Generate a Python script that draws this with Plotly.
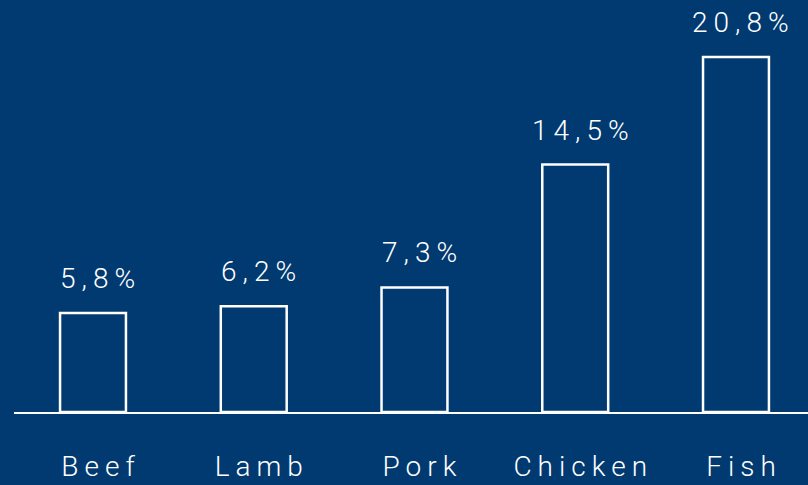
import plotly.graph_objects as go

categories = ["Beef", "Lamb", "Pork", "Chicken", "Fish"]
values = [5.8, 6.2, 7.3, 14.5, 20.8]
value_labels = ["5,8%", "6,2%", "7,3%", "14,5%", "20,8%"]

BG = "#003A70"
FONT = dict(family="Roboto, 'Open Sans', sans-serif", size=28, color="white", weight=300)

fig = go.Figure(
    go.Bar(
        x=categories,
        y=values,
        width=0.41,
        marker=dict(color=BG, line=dict(color="white", width=2.5)),
        hoverinfo="skip",
    )
)

for c, v, t in zip(categories, values, value_labels):
    fig.add_annotation(
        x=c, y=v, text=t, showarrow=False, yanchor="bottom",
        yshift=16, xshift=8, font=FONT,
    )

fig.update_layout(
    width=808, height=485,
    paper_bgcolor=BG, plot_bgcolor=BG,
    margin=dict(l=14, r=0, t=0, b=73),
    showlegend=False,
    xaxis=dict(
        range=[-0.4914, 4.448], automargin=False,
        showline=True, linecolor="white", linewidth=2,
        showgrid=False, zeroline=False, ticks="",
        tickfont=FONT, ticklabelstandoff=28, ticklabelshift=8,
    ),
    yaxis=dict(range=[0, 24.14], visible=False, showgrid=False, zeroline=False,
               automargin=False),
)

post = """
var s=document.createElement('style');
s.textContent='html,body{margin:0;padding:0;overflow:hidden;background:#003A70;} .xtick text, .annotation-text{letter-spacing:6px;}';
document.head.appendChild(s);
"""
fig.write_html("out.html", post_script=post, config={"displayModeBar": False, "staticPlot": True})
